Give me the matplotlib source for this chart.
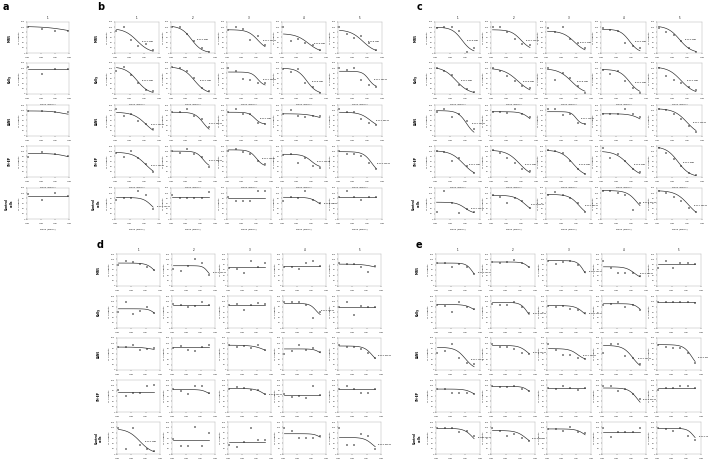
import numpy as np
import matplotlib.pyplot as plt

# log10 dose of each measured point
conc_a = [-8.9, -7.95, -7.0, -6.05]
conc = [-8.9, -8.4, -7.9, -7.4, -6.9, -6.4]

col_titles = ["1", "2", "3", "4", "5"]
row_names = ["IMR5", "Kelly", "LAN5", "SH-EP", "Control\ncells"]

# panel a: one column, 4 doses
a_top = [103, 96, 97, 91, 88]
a_bottom = [70, 96, 80, 70, 88]
a_logic50 = [-6.0, -6.0, -6.5, -6.2, -6.0]
a_hill = [0.5, 1, 1, 1, 1]
a_points = [[100, 93, 87, 84], [106, 78, 96, 96], [96, 96, 92, 92],
            [78, 96, 88, 80], [95, 73, 99, 88]]

# panel b
b_top = [[95, 105, 90, 75, 90],
         [105, 105, 85, 100, 88],
         [92, 92, 92, 86, 92],
         [96, 100, 105, 88, 98],
         [83, 87, 83, 84, 85]]
b_bottom = [[0, 0, 10, 0, 0],
            [0, 0, 30, 0, 25],
            [0, 10, 45, 60, 30],
            [0, 35, 40, 35, 10],
            [20, 87, 83, 40, 85]]
b_logic50 = [[-7.5, -7.6, -6.9, -7.2, -7.3],
             [-7.5, -7.4, -6.9, -7.3, -6.9],
             [-6.9, -6.8, -7.1, -6.5, -6.8],
             [-6.9, -6.8, -7.0, -7.0, -6.7],
             [-6.5, -6.0, -6.0, -6.5, -6.0]]
b_hill = [[1.0, 1.2, 1.3, 1.0, 1.0],
          [1.1, 1.1, 2.0, 1.3, 2.0],
          [1.0, 1.5, 2.0, 1.0, 1.2],
          [1.0, 1.8, 1.8, 1.5, 1.5],
          [1.5, 1.0, 1.0, 1.5, 1.0]]
b_points = [
    [[86, 100, 50, 28, 36, 10], [102, 99, 75, 45, 20, 5], [90, 99, 92, 52, 65, 30],
     [99, 48, 55, 39, 32, 13], [99, 74, 58, 64, 39, 10]],
    [[88, 103, 75, 43, 17, 10], [103, 99, 90, 60, 25, 10], [101, 90, 59, 55, 43, 43],
     [96, 84, 98, 43, 27, 2], [101, 92, 101, 55, 36, 27]],
    [[104, 78, 85, 59, 46, 29], [91, 91, 104, 78, 65, 35], [91, 104, 85, 85, 52, 46],
     [85, 100, 78, 72, 78, 78], [104, 91, 91, 65, 52, 42]],
    [[94, 77, 100, 75, 49, 21], [100, 94, 107, 90, 77, 39], [100, 107, 98, 88, 62, 49],
     [85, 88, 55, 75, 43, 36], [101, 88, 88, 82, 56, 30]],
    [[74, 81, 81, 107, 91, 39], [94, 81, 81, 81, 81, 104], [87, 68, 68, 68, 107, 107],
     [68, 87, 83, 107, 74, 61], [85, 107, 85, 74, 85, 85]],
]

# panel c
c_top = [[100, 90, 85, 92, 105],
         [105, 100, 98, 95, 105],
         [98, 94, 94, 86, 106],
         [102, 104, 104, 100, 118],
         [65, 92, 95, 110, 110]]
c_bottom = [[0, 10, 0, 0, 0],
            [0, 0, 0, 0, 0],
            [0, 40, 45, 40, 0],
            [0, 0, 0, 0, 0],
            [20, 20, 10, 20, 0]]
c_logic50 = [[-7.2, -7.0, -7.1, -7.1, -7.5],
             [-7.6, -7.2, -7.3, -7.1, -7.4],
             [-6.9, -6.4, -7.0, -6.3, -7.0],
             [-7.1, -7.1, -7.2, -7.2, -7.6],
             [-7.0, -6.7, -6.8, -6.6, -6.9]]
c_hill = [[1.3, 1.3, 1.1, 1.4, 1.1],
          [1.0, 0.9, 1.0, 1.3, 1.0],
          [1.5, 1.5, 2.5, 1.2, 1.0],
          [1.0, 1.0, 1.1, 1.0, 1.1],
          [1.5, 1.2, 1.3, 1.3, 1.0]]
c_points = [
    [[97, 99, 100, 84, 5, 18], [99, 99, 81, 55, 35, 32], [97, 81, 99, 55, 39, 19],
     [97, 90, 86, 39, 26, 19], [97, 81, 71, 45, 19, 4]],
    [[101, 88, 75, 36, 19, 6], [101, 88, 71, 49, 32, 23], [101, 55, 81, 62, 32, 4],
     [94, 79, 88, 49, 23, 4], [101, 71, 55, 43, 27, 17]],
    [[91, 104, 72, 85, 59, 26], [91, 91, 89, 104, 85, 72], [104, 104, 81, 85, 50, 46],
     [85, 85, 85, 104, 85, 72], [104, 102, 85, 65, 39, 16]],
    [[100, 98, 62, 75, 43, 17], [104, 94, 75, 56, 30, 23], [104, 101, 94, 62, 30, 10],
     [111, 72, 88, 62, 30, 21], [113, 94, 68, 43, 17, 8]],
    [[29, 107, 61, 22, 39, 29], [94, 87, 61, 81, 68, 42], [94, 104, 94, 81, 61, 29],
     [107, 107, 100, 94, 35, 61], [107, 100, 87, 68, 44, 29]],
]

# panel d
d_top = [[86, 76, 70, 75, 82],
         [72, 86, 87, 92, 79],
         [86, 86, 93, 79, 90],
         [75, 84, 88, 65, 85],
         [95, 53, 44, 76, 62]]
d_bottom = [[20, 30, 70, 75, 60],
            [30, 86, 87, 40, 79],
            [70, 86, 50, 50, 20],
            [75, 60, 50, 65, 85],
            [0, 53, 44, 50, 10]]
d_logic50 = [[-6.3, -6.5, -6.0, -6.0, -6.4],
             [-6.3, -6.0, -6.0, -6.7, -6.0],
             [-6.5, -6.0, -6.3, -6.4, -6.6],
             [-6.0, -6.5, -6.5, -6.0, -6.0],
             [-7.4, -6.0, -6.0, -6.4, -6.6]]
d_hill = [[1.5, 2.5, 1.0, 1.0, 1.0],
          [2.0, 1.0, 1.0, 2.0, 1.0],
          [1.0, 1.0, 1.0, 2.0, 1.5],
          [1.0, 2.0, 1.5, 1.0, 1.0],
          [1.0, 1.0, 1.0, 2.0, 1.5]]
d_points = [
    [[79, 95, 91, 82, 72, 60], [62, 57, 75, 100, 85, 41], [66, 62, 50, 92, 70, 85],
     [70, 72, 62, 85, 95, 75], [85, 81, 81, 72, 54, 75]],
    [[59, 99, 54, 62, 78, 56], [91, 87, 77, 83, 99, 85], [88, 90, 69, 88, 92, 90],
     [99, 99, 96, 87, 38, 59], [78, 96, 50, 83, 78, 78]],
    [[88, 86, 94, 76, 78, 82], [82, 91, 76, 70, 86, 94], [94, 88, 91, 82, 94, 76],
     [61, 70, 94, 76, 82, 66], [94, 88, 88, 78, 64, 45]],
    [[83, 61, 71, 71, 96, 102], [86, 77, 69, 99, 96, 71], [86, 93, 89, 83, 83, 69],
     [69, 56, 61, 53, 98, 65], [86, 98, 86, 71, 71, 86]],
    [[99, 20, 99, 32, 17, 10], [56, 29, 29, 103, 29, 78], [32, 26, 44, 99, 53, 53],
     [99, 87, 59, 59, 59, 69], [99, 34, 34, 75, 66, 20]],
]

# panel e
e_top = [[86, 90, 95, 72, 82],
         [88, 96, 84, 91, 96],
         [85, 92, 80, 92, 95],
         [86, 96, 89, 90, 89],
         [96, 88, 94, 83, 96]]
e_bottom = [[20, 50, 20, 25, 82],
            [50, 20, 30, 50, 96],
            [0, 40, 35, 0, 0],
            [50, 60, 89, 10, 89],
            [30, 30, 50, 83, 40]]
e_logic50 = [[-6.5, -6.4, -6.5, -6.8, -6.0],
             [-6.4, -6.5, -6.5, -6.4, -6.0],
             [-7.0, -6.5, -6.9, -6.9, -6.6],
             [-6.4, -6.4, -6.0, -6.6, -6.0],
             [-6.5, -6.6, -6.4, -6.0, -6.5]]
e_hill = [[2.0, 2.0, 2.0, 1.5, 1.0],
          [1.5, 1.8, 1.5, 2.0, 1.0],
          [1.3, 1.5, 1.5, 1.3, 1.5],
          [1.5, 2.0, 1.0, 1.5, 1.0],
          [1.5, 1.3, 1.5, 1.0, 2.0]]
e_points = [
    [[85, 85, 70, 82, 70, 45], [89, 87, 89, 97, 85, 72], [95, 82, 91, 95, 79, 54],
     [95, 69, 50, 50, 47, 37], [66, 95, 66, 87, 85, 82]],
    [[87, 83, 59, 99, 78, 71], [91, 87, 87, 99, 78, 56], [83, 78, 83, 71, 69, 56],
     [87, 91, 99, 78, 87, 69], [96, 99, 96, 96, 96, 94]],
    [[64, 70, 98, 45, 27, 21], [98, 86, 86, 80, 64, 61], [98, 76, 58, 58, 45, 41],
     [64, 98, 98, 51, 45, 21], [94, 88, 82, 82, 64, 27]],
    [[86, 86, 71, 71, 73, 69], [98, 93, 93, 98, 86, 77], [89, 86, 98, 89, 83, 89],
     [98, 98, 77, 86, 69, 47], [83, 89, 89, 98, 96, 89]],
    [[96, 96, 96, 81, 87, 66], [99, 87, 69, 75, 59, 50], [93, 93, 87, 103, 81, 78],
     [96, 62, 83, 83, 83, 99], [96, 93, 87, 96, 66, 54]],
]

W, H = 708, 461
fig = plt.figure(figsize=(W / 100, H / 100), dpi=100)


def px_axes(left, top, w, h):
    return fig.add_axes([left / W, 1 - (top + h) / H, w / W, h / H])


def hill_curve(x, top, bottom, logic50, hill):
    return bottom + (top - bottom) / (1 + 10 ** ((x - logic50) * hill))


def draw_cell(ax, logc, pts, top, bottom, logic50, hill, row, col):
    xs = np.linspace(logc[0], logc[-1], 120)
    ax.plot(10 ** xs, hill_curve(xs, top, bottom, logic50, hill), color='#222222', lw=0.45)
    ax.plot(10 ** np.array(logc), pts, '+', color='#222222', ms=1.3, mew=0.35)
    if top - bottom >= 30 and logic50 <= -6.45:
        nm = 10 ** (logic50 + 9)
        ax.text(10 ** (logic50 + 0.3), (top + bottom) / 2 - 5,
                "IC$_{50}$=%.0fnM" % nm, fontsize=1.5, ha='left', va='center',
                clip_on=False)
    ax.set_xscale('log')
    ax.minorticks_off()
    ax.set_xlim(1e-9, 1e-6)
    ax.set_xticks([1e-9, 1e-8, 1e-7, 1e-6])
    ax.set_xticklabels(['10$^{-9}$', '10$^{-8}$', '10$^{-7}$', '10$^{-6}$'])
    ax.set_ylim(0, 120)
    ax.set_yticks(range(0, 121, 20))
    ax.tick_params(labelsize=1.5, length=1, width=0.3, pad=0.6, colors='#333333')
    for s in ax.spines.values():
        s.set_linewidth(0.3)
        s.set_color('#aaaaaa')
    ax.set_xlabel('Dose (Molar)', fontsize=1.7, labelpad=0.6)
    ax.set_ylabel('% Viability', fontsize=1.7, labelpad=0.6)
    if row == 0:
        ax.set_title(col_titles[col], fontsize=2.0, pad=2.5)
    if col == 0:
        ax.text(-0.42, 0.5, row_names[row], transform=ax.transAxes, rotation=90,
                fontsize=2.1, fontweight='bold', ha='center', va='center')


rows_top = [22, 63, 105, 146, 188]
rows_bot = [254, 296, 338, 380, 422]

# panel a
for r in range(5):
    ax = px_axes(27, rows_top[r], 42, 31)
    draw_cell(ax, conc_a, a_points[r], a_top[r], a_bottom[r], a_logic50[r], a_hill[r], r, 0)

panels = [
    ([115, 171, 227, 282, 338], rows_top, 44, 31, b_top, b_bottom, b_logic50, b_hill, b_points),
    ([435, 491, 546, 601, 657], rows_top, 45, 31, c_top, c_bottom, c_logic50, c_hill, c_points),
    ([117, 172, 228, 283, 338], rows_bot, 43, 32, d_top, d_bottom, d_logic50, d_hill, d_points),
    ([436, 491, 547, 602, 657], rows_bot, 44, 32, e_top, e_bottom, e_logic50, e_hill, e_points),
]
for lefts, tops, w, h, tp, bt, ic, hl, pts in panels:
    for r in range(5):
        for c in range(5):
            ax = px_axes(lefts[c], tops[r], w, h)
            draw_cell(ax, conc, pts[r][c], tp[r][c], bt[r][c], ic[r][c], hl[r][c], r, c)

for letter, x, y in [('a', 3, 10), ('b', 97, 10), ('c', 417, 10), ('d', 97, 248), ('e', 416, 248)]:
    fig.text(x / W, 1 - y / H, letter, fontsize=7, fontweight='bold', ha='left', va='baseline')

fig.savefig('out.png', dpi=100)
